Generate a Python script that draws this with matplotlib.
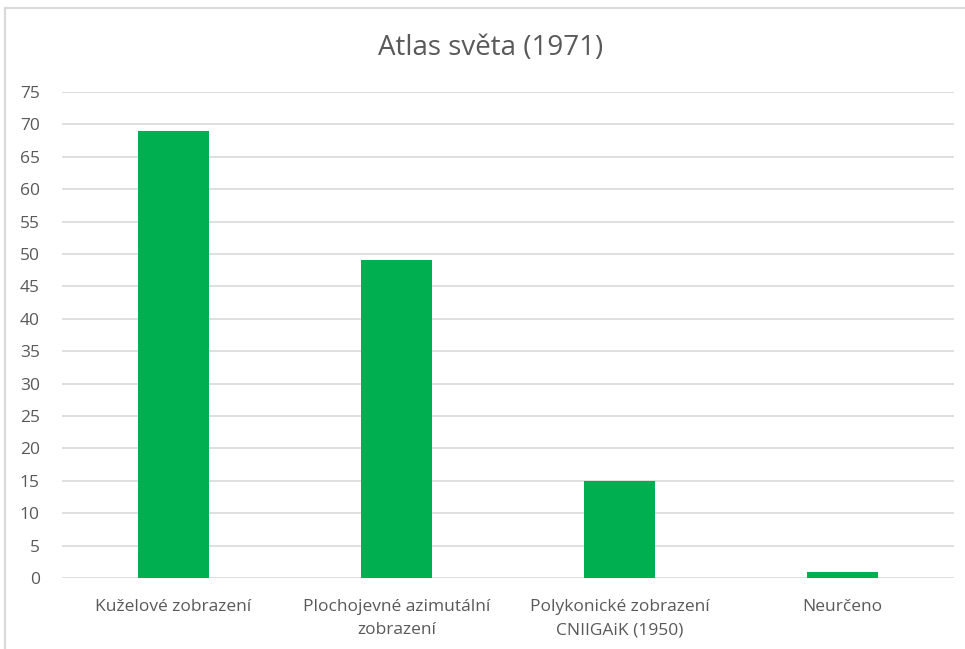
import matplotlib
matplotlib.use("Agg")
import matplotlib.pyplot as plt
from matplotlib.lines import Line2D

categories = ["Kuželové zobrazení", "Plochojevné azimutální\nzobrazení",
              "Polykonické zobrazení\nCNIIGAiK (1950)", "Neurčeno"]
values = [69, 49, 15, 1]
yticks = list(range(0, 80, 5))
title = "Atlas světa (1971)"

plt.rcParams['font.family'] = ['Open Sans', 'DejaVu Sans']

fig = plt.figure(figsize=(9.65, 6.49), dpi=100)
ax = fig.add_axes([62/965, 71/649, 892/965, 486/649])

x = list(range(len(categories)))
ax.bar(x, values, width=0.314, color="#00B050", zorder=3)
ax.set_xlim(-0.5, len(categories) - 0.5)
ax.set_ylim(0, 75)
ax.set_yticks(yticks)
ax.set_yticklabels([str(t) for t in yticks])
ax.set_xticks(x)
ax.set_xticklabels(categories, linespacing=1.6)
ax.yaxis.grid(True, color="#D9D9D9", linewidth=1.2, zorder=0)
for s in ax.spines.values():
    s.set_visible(False)
ax.tick_params(axis='both', length=0, colors="#595959", labelsize=12.5)
ax.tick_params(axis='y', pad=16)
ax.tick_params(axis='x', pad=15)

fig.text(491/965, 1 - 48/649, title, ha='center', va='center',
         fontsize=20, color="#595959")

# chart border (left and top)
fig.add_artist(Line2D([5/965, 5/965], [0, 1 - 8/649], transform=fig.transFigure,
                      color="#D9D9D9", linewidth=1.5))
fig.add_artist(Line2D([5/965, 1], [1 - 8/649, 1 - 8/649], transform=fig.transFigure,
                      color="#D9D9D9", linewidth=1.5))

fig.savefig("out.png", dpi=100)
